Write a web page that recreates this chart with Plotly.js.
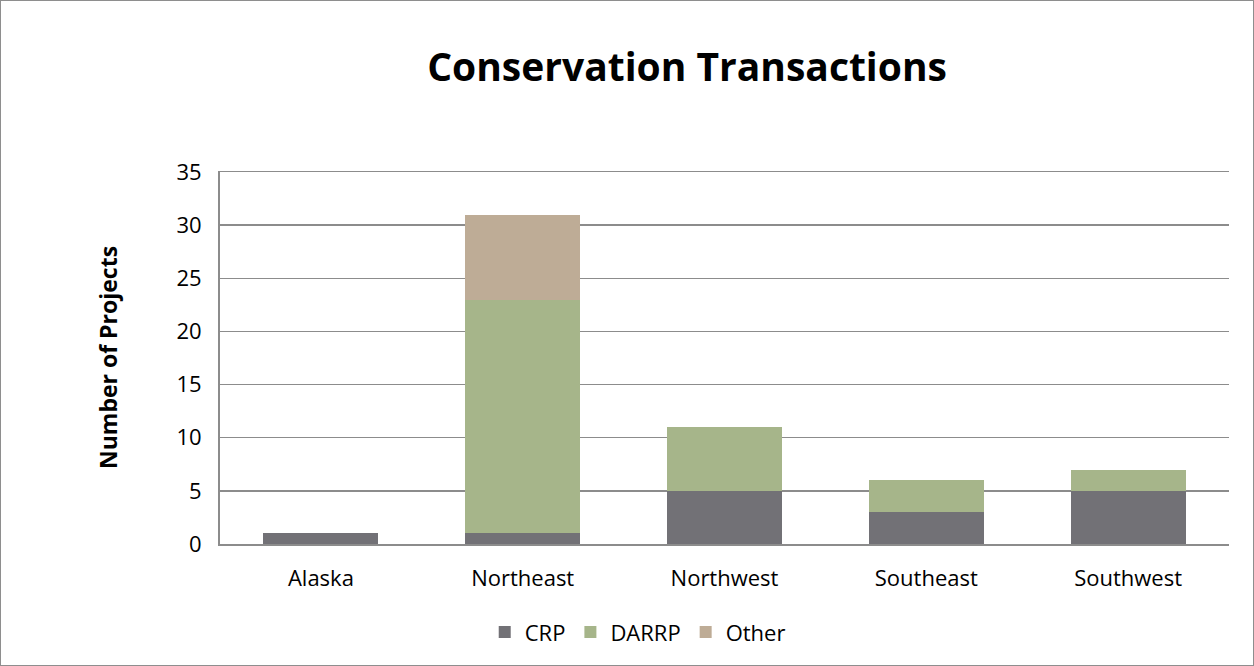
<!DOCTYPE html>
<html>
<head>
<meta charset="utf-8">
<script src="https://cdn.plot.ly/plotly-3.0.1.min.js"></script>
<style>
html,body{margin:0;padding:0;background:#fff;}
#chart{width:1252px;height:664px;border:1px solid #8e8e8e;}
</style>
</head>
<body>
<div id="chart"></div>
<script>
const regions = ["Alaska", "Northeast", "Northwest", "Southeast", "Southwest"];
const crp = [1, 1, 5, 3, 5];
const darrp = [0, 22, 6, 3, 2];
const other = [0, 8, 0, 0, 0];
const yTicks = [0, 5, 10, 15, 20, 25, 30, 35];

const font = "Open Sans, Noto Sans, Liberation Sans, sans-serif";
const traces = [
  {type: "bar", name: "CRP", x: regions, y: crp, marker: {color: "#727176"}},
  {type: "bar", name: "DARRP", x: regions, y: darrp, marker: {color: "#A6B58A"}},
  {type: "bar", name: "Other", x: regions, y: other, marker: {color: "#BEAC96"}}
];
const layout = {
  width: 1252, height: 664,
  barmode: "stack",
  bargap: 0.43,
  paper_bgcolor: "#fff", plot_bgcolor: "#fff",
  margin: {l: 219, r: 24, t: 171, b: 121},
  font: {family: font, size: 22, color: "#000"},
  title: {text: "<b>Conservation Transactions</b>", font: {family: font, size: 39, color: "#000"}, x: 0.548, xanchor: "center", y: 0.9, yanchor: "middle"},
  xaxis: {showline: true, mirror: true, linecolor: "#8c8c8c", linewidth: 1.5, tickfont: {size: 22}, ticks: "", showgrid: false, ticklabelstandoff: 14},
  yaxis: {
    range: [0, 35], tickvals: yTicks, ticktext: yTicks.map(String),
    showgrid: true, gridcolor: "#8c8c8c", gridwidth: 1.5,
    showline: true, linecolor: "#8c8c8c", linewidth: 2,
    zeroline: false, ticks: "", ticklen: 0,
    tickfont: {size: 22}, ticklabelstandoff: 12
  },
  annotations: [{
    text: "<b>Number of Projects</b>", xref: "paper", yref: "paper",
    x: -0.111, y: 0.5, xanchor: "center", yanchor: "middle", textangle: -90,
    showarrow: false, font: {size: 23, color: "#000"}
  }],
  legend: {orientation: "h", x: 0.414, xanchor: "center", y: -0.237, yanchor: "middle", font: {size: 22}, traceorder: "normal", itemwidth: 30},
  showlegend: true
};
Plotly.newPlot("chart", traces, layout, {displayModeBar: false, staticPlot: true});
</script>
</body>
</html>
